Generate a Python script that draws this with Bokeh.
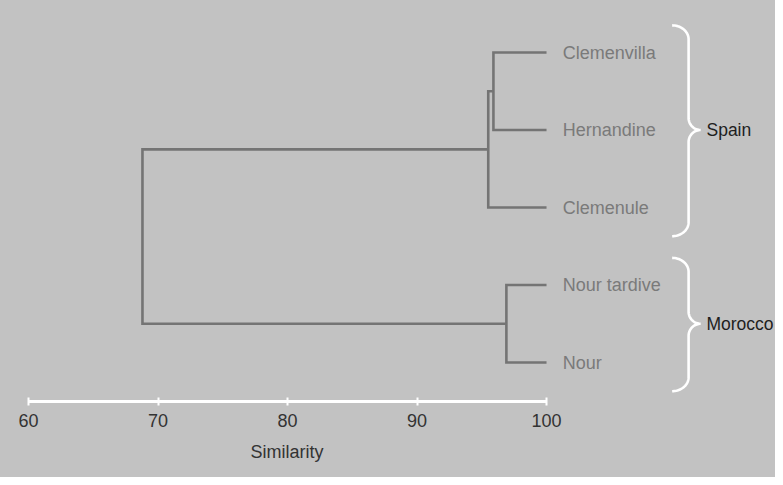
import numpy as np
from bokeh.plotting import figure
from bokeh.models import Range1d, FixedTicker, Title
from bokeh.core.properties import value
from bokeh.embed import file_html
from bokeh.resources import INLINE

# ---- data ----
leaves = ["Clemenvilla", "Hernandine", "Clemenule", "Nour tardive", "Nour"]
# merges (scipy-like): leaves are nodes 0..4, merge i creates node 5+i
merge_a = [0, 5, 3, 6]
merge_b = [1, 2, 4, 7]
merge_sim = [95.9, 95.5, 96.9, 68.8]
groups = ["Spain", "Morocco"]
group_first = [0, 3]
group_last = [2, 4]
tick_values = [60, 70, 80, 90, 100]
axis_title = "Similarity"

# ---- styles ----
BG = "#c2c2c2"
LINE = "#747474"
LEAF_TXT = "#7a7a7a"
FONT = "Liberation Sans"

p = figure(width=775, height=477,
           x_range=Range1d(57.838, 117.68), y_range=Range1d(4.503, -0.671),
           output_backend="svg", toolbar_location=None,
           min_border_left=0, min_border_right=0, min_border_top=0, min_border_bottom=76,
           y_axis_location=None)
p.background_fill_color = None
p.border_fill_color = None
p.styles = {"background-color": BG}
p.outline_line_color = None
p.grid.visible = False

# ---- dendrogram ----
node_x = [100.0] * len(leaves)
node_y = [float(i) for i in range(len(leaves))]
xs, ys = [], []
for a, b, s in zip(merge_a, merge_b, merge_sim):
    xs.append([node_x[a], s, s, node_x[b]])
    ys.append([node_y[a], node_y[a], node_y[b], node_y[b]])
    node_x.append(s)
    node_y.append((node_y[a] + node_y[b]) / 2)
p.multi_line(xs=xs, ys=ys, line_color=LINE, line_width=2.6, line_join="miter")

# ---- leaf labels ----
leaf_y = list(range(len(leaves)))
p.text(x=[100 + 1.25] * len(leaves), y=leaf_y, text=leaves,
       text_font=value(FONT), text_font_size=value("18px"), text_color=LEAF_TXT,
       text_baseline="middle", text_align="left")

# ---- braces ----
XH, XS, XT = 109.7, 110.97, 111.9
RY_HOOK, RY_TIP = 0.18, 0.155
t = np.linspace(0, np.pi / 2, 20)
bx, by = [], []
for f, l in zip(group_first, group_last):
    top = f - 0.35
    bot = l + 0.37
    mid = (f + l) / 2
    x1 = XH + (XS - XH) * np.sin(t)
    y1 = top + RY_HOOK - RY_HOOK * np.cos(t)
    x2 = XT - (XT - XS) * np.cos(t)
    y2 = mid - RY_TIP + RY_TIP * np.sin(t)
    x3 = x2[::-1]
    y3 = 2 * mid - y2[::-1]
    x4 = x1[::-1]
    y4 = top + bot - y1[::-1]
    bx.append(np.concatenate([x1, x2, x3, x4]).tolist())
    by.append(np.concatenate([y1, y2, y3, y4]).tolist())
p.multi_line(xs=bx, ys=by, line_color="white", line_width=2.6)

p.text(x=[XT + 0.45] * len(groups),
       y=[(f + l) / 2 for f, l in zip(group_first, group_last)], text=groups,
       text_font=value(FONT), text_font_size=value("17.5px"), text_color="#1e1e1e",
       text_baseline="middle", text_align="left")

# ---- axis ----
ax = p.xaxis[0]
ax.bounds = (tick_values[0], tick_values[-1])
ax.ticker = FixedTicker(ticks=tick_values)
ax.minor_tick_line_color = None
ax.axis_line_color = "white"
ax.axis_line_width = 3
ax.major_tick_line_color = "white"
ax.major_tick_line_width = 2
ax.major_tick_in = 4
ax.major_tick_out = 4
ax.major_label_text_font = FONT
ax.major_label_text_font_size = "18px"
ax.major_label_text_color = "#333333"
ax.major_label_standoff = 8

# axis title placed under the 80 tick, as in the reference
p.add_layout(Title(text=axis_title, align="left", offset=250, standoff=21,
                   text_font=FONT, text_font_size="18px", text_font_style="normal",
                   text_color="#333333"), "below")

open("out.html", "w").write(file_html(p, INLINE))
